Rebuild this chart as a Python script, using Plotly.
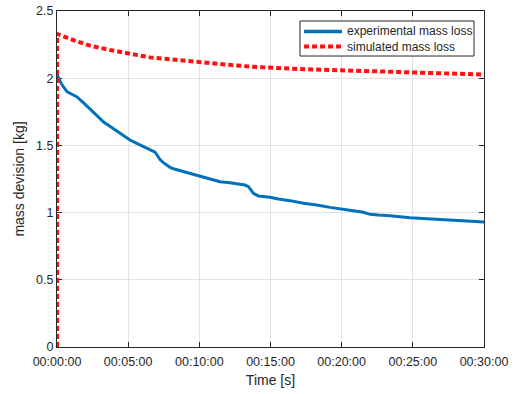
import plotly.graph_objects as go

# Experimental mass loss (time in minutes, mass in kg)
exp_time_min = [0.00, 0.20, 0.44, 0.70, 0.91, 1.15, 1.38, 1.85, 2.20, 2.55, 2.90, 3.25, 3.60, 3.96,
                4.30, 4.66, 5.13, 5.50, 5.83, 6.20, 6.54, 6.89, 7.05, 7.24, 7.50, 7.94, 8.30, 8.64,
                9.00, 9.35, 9.70, 10.05, 10.40, 10.75, 11.10, 11.45, 12.16, 12.86, 13.20, 13.45,
                13.65, 13.80, 14.15, 14.97, 15.55, 16.37, 17.31, 18.25, 19.18, 20.00, 20.82, 21.52,
                22.00, 22.58, 23.40, 24.80, 26.20, 27.60, 29.00, 30.00]
exp_mass = [2.03, 1.98, 1.937, 1.90, 1.888, 1.875, 1.862, 1.818, 1.785, 1.751, 1.712, 1.676, 1.650,
            1.627, 1.597, 1.570, 1.540, 1.520, 1.503, 1.488, 1.472, 1.450, 1.425, 1.395, 1.370,
            1.337, 1.322, 1.312, 1.300, 1.292, 1.280, 1.267, 1.257, 1.248, 1.238, 1.230, 1.222,
            1.213, 1.205, 1.193, 1.165, 1.143, 1.124, 1.114, 1.101, 1.089, 1.069, 1.057, 1.039,
            1.024, 1.014, 1.002, 0.987, 0.982, 0.977, 0.962, 0.952, 0.943, 0.932, 0.930]

# Simulated mass loss
sim_time_min = [0, 0, 0.91, 2.32, 3.72, 5.13, 6.54, 7.94, 10.05, 13.56, 17.08, 20.6, 24.1, 27.6, 30.0]
sim_mass = [0, 2.33, 2.292, 2.242, 2.210, 2.180, 2.155, 2.140, 2.118, 2.086, 2.068, 2.056, 2.044,
            2.036, 2.027]

series_names = ["experimental mass loss", "simulated mass loss"]
x_tick_min = [0, 5, 10, 15, 20, 25, 30]
x_tick_labels = ["00:00:00", "00:05:00", "00:10:00", "00:15:00", "00:20:00", "00:25:00", "00:30:00"]
y_tick_vals = [0, 0.5, 1, 1.5, 2, 2.5]
y_tick_labels = ["0", "0.5", "1", "1.5", "2", "2.5"]

exp_t = [t * 60 for t in exp_time_min]
sim_t = [t * 60 for t in sim_time_min]
x_ticks = [t * 60 for t in x_tick_min]

axis_col = "#262626"
fam = "Liberation Sans, Arial, sans-serif"
blue = "#0072BD"
red = "#FF1010"
red_dash = "5px,3px"

fig = go.Figure()
fig.add_trace(go.Scatter(x=exp_t, y=exp_mass, mode="lines", name=series_names[0],
                         line=dict(color=blue, width=3)))
fig.add_trace(go.Scatter(x=sim_t, y=sim_mass, mode="lines", name=series_names[1],
                         line=dict(color=red, width=4, dash=red_dash), cliponaxis=False))

# Legend box drawn MATLAB-style (compact entries)
fig.add_shape(type="rect", xref="paper", yref="paper", x0=0.569, x1=0.9766, y0=0.866, y1=0.9702,
              line=dict(color=axis_col, width=1), fillcolor="white", layer="above")
legend_rows = [0.939, 0.8943]
legend_styles = [dict(color=blue, width=3.5), dict(color=red, width=4, dash=red_dash)]
for name, yy, st in zip(series_names, legend_rows, legend_styles):
    fig.add_shape(type="line", xref="paper", yref="paper", x0=0.5785, x1=0.6674, y0=yy, y1=yy,
                  line=st, layer="above")
    fig.add_annotation(xref="paper", yref="paper", x=0.6745, y=yy, xanchor="left", yanchor="middle",
                       text=name, showarrow=False,
                       font=dict(family=fam, size=12, color=axis_col))

fig.update_layout(
    width=518, height=394,
    margin=dict(l=57, r=34, t=11, b=47, autoexpand=False),
    paper_bgcolor="white", plot_bgcolor="white",
    font=dict(family=fam, size=12.5, color=axis_col),
    showlegend=False,
)
fig.update_xaxes(range=[0, 1800], tickvals=x_ticks, ticktext=x_tick_labels,
                 showline=True, linecolor=axis_col, linewidth=1, mirror="ticks",
                 ticks="inside", ticklen=5, tickcolor=axis_col, automargin=False,
                 ticklabelstandoff=3,
                 tickfont=dict(family=fam, size=12.5, color=axis_col),
                 showgrid=True, gridcolor="#e3e3e3", gridwidth=1, zeroline=False,
                 title=dict(text="Time [s]", standoff=7, font=dict(family=fam, size=14, color=axis_col)),
                 layer="below traces")
fig.update_yaxes(range=[0, 2.5], tickvals=y_tick_vals, ticktext=y_tick_labels,
                 showline=True, linecolor=axis_col, linewidth=1, mirror="ticks",
                 ticks="inside", ticklen=5, tickcolor=axis_col, automargin=False,
                 tickfont=dict(family=fam, size=12.5, color=axis_col),
                 showgrid=True, gridcolor="#e3e3e3", gridwidth=1, zeroline=False,
                 title=dict(text="mass devision [kg]", standoff=8, font=dict(family=fam, size=14, color=axis_col)),
                 layer="below traces")

fig.write_html("out.html", config={"displayModeBar": False},
               post_script="document.body.style.margin='0';")
